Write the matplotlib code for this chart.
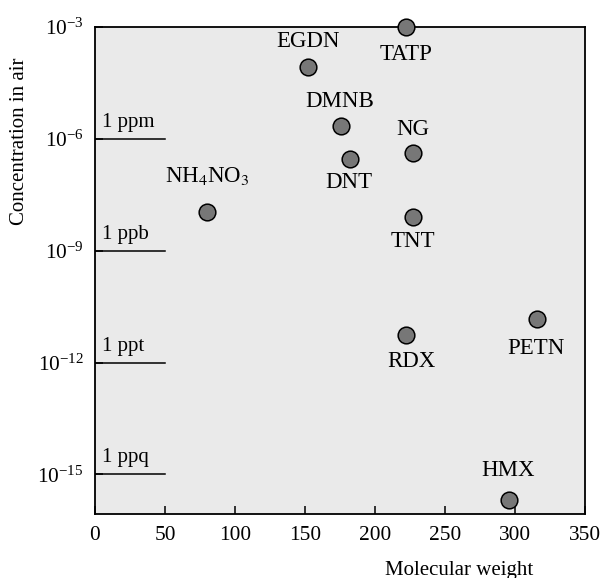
import matplotlib.pyplot as plt

plt.rcParams['font.family'] = ['Liberation Serif', 'DejaVu Serif']
plt.rcParams['mathtext.fontset'] = 'stix'

# explosives: molecular weight vs vapour concentration in air
names = ['TATP', 'EGDN', 'DMNB', 'DNT', 'NG', 'NH$_4$NO$_3$', 'TNT', 'RDX', 'PETN', 'HMX']
mol_weight = [222, 152, 176, 182, 227, 80, 227, 222, 316, 296]
conc = [1.0e-3, 8.5e-5, 2.2e-6, 2.8e-7, 4.2e-7, 1.1e-8, 7.9e-9, 5.4e-12, 1.5e-11, 2.1e-16]

ref_labels = ['1 ppm', '1 ppb', '1 ppt', '1 ppq']
ref_levels = [1e-6, 1e-9, 1e-12, 1e-15]

# label offsets in pixels (dx, dy), baseline anchored
offsets = [(0, -33), (0, 20), (-2, 19), (-1, -29), (0, 18),
           (0, 30), (0, -30), (6, -32), (-1, -35), (-1, 24)]

fig = plt.figure(figsize=(6.01, 5.78), dpi=100)
ax = fig.add_axes([95/601, 1-514/578, 490/601, 487/578])
ax.set_facecolor('#eaeaea')

for lab, lev in zip(ref_labels, ref_levels):
    ax.plot([0, 50], [lev, lev], color='black', lw=1.1, zorder=2)
    ax.annotate(lab, (0, lev), xytext=(7, 12), textcoords='offset pixels',
                fontsize=15, ha='left', va='baseline')

ax.plot(mol_weight, conc, 'o', ms=12, mfc='#777777', mec='black', mew=1.1,
        clip_on=False, zorder=3)
for n, x, y, (dx, dy) in zip(names, mol_weight, conc, offsets):
    ax.annotate(n, (x, y), xytext=(dx, dy), textcoords='offset pixels',
                fontsize=16.5, ha='center', va='baseline')

ax.set_yscale('log')
ax.set_xlim(0, 350)
ax.set_ylim(10**-16.06, 1e-3)
ax.set_xticks(range(0, 351, 50))
ax.set_yticks([1e-3, 1e-6, 1e-9, 1e-12, 1e-15])
ax.minorticks_off()
ax.tick_params(direction='in', length=6, width=1.1, labelsize=15.4)
ax.tick_params(axis='x', pad=9)
ax.tick_params(axis='y', pad=8)
for s in ax.spines.values():
    s.set_linewidth(1.3)

fig.text(20/601, 1-141/578, 'Concentration in air', rotation=90,
         ha='center', va='center', fontsize=15)
fig.text(459/601, 1-570/578, 'Molecular weight', ha='center', va='center',
         fontsize=15)

fig.savefig('out.png', dpi=100)
